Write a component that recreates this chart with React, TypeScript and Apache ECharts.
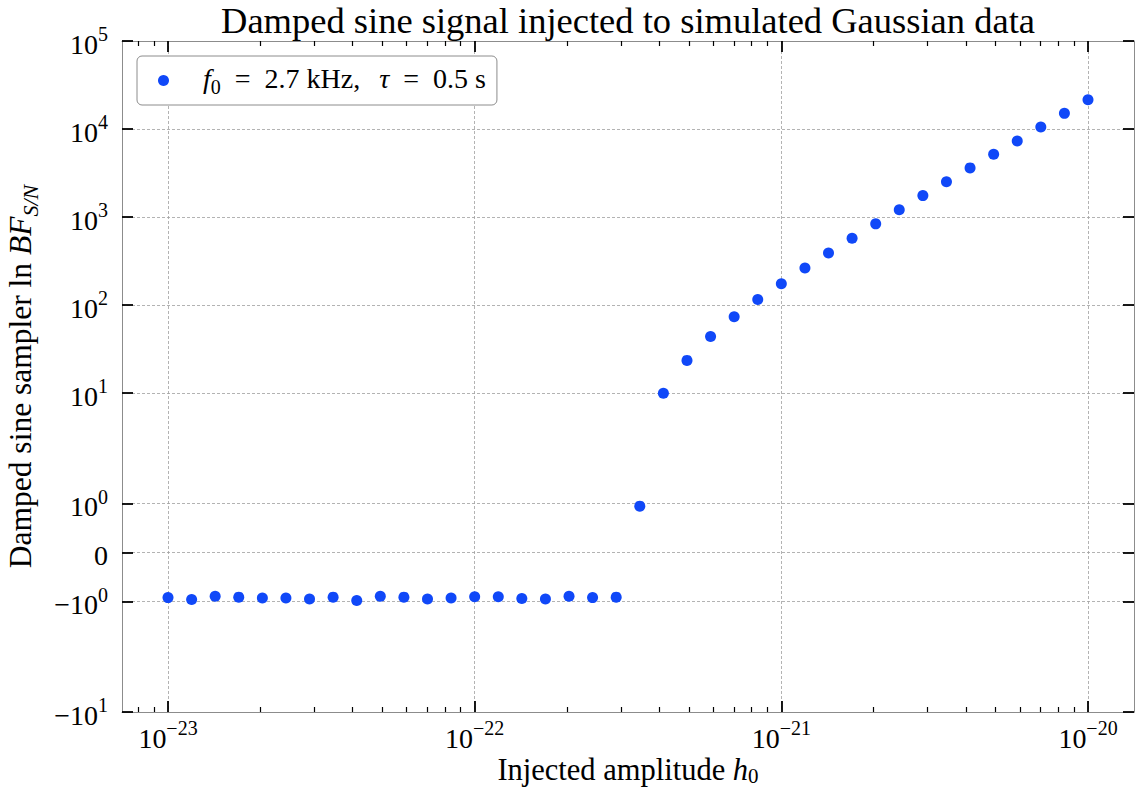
import React, { useEffect, useRef } from "react";
import * as echarts from "echarts";

// ---------------- data ----------------
const H0 = [
  1.000e-23, 1.194e-23, 1.425e-23, 1.701e-23, 2.031e-23, 2.424e-23, 2.894e-23, 3.455e-23, 4.125e-23, 4.924e-23,
  5.878e-23, 7.017e-23, 8.377e-23, 1.000e-22, 1.194e-22, 1.425e-22, 1.701e-22, 2.031e-22, 2.424e-22, 2.894e-22,
  3.455e-22, 4.125e-22, 4.924e-22, 5.878e-22, 7.017e-22, 8.377e-22, 1.000e-21, 1.194e-21, 1.425e-21, 1.701e-21,
  2.031e-21, 2.424e-21, 2.894e-21, 3.455e-21, 4.125e-21, 4.924e-21, 5.878e-21, 7.017e-21, 8.377e-21, 1.000e-20,
];
const LN_BF = [
  -0.92, -0.96, -0.89, -0.91, -0.93, -0.93, -0.95, -0.91, -0.98, -0.89,
  -0.91, -0.95, -0.93, -0.9, -0.9, -0.94, -0.95, -0.89, -0.92, -0.91,
  0.95, 10.0, 23.6, 44.2, 73.8, 115.7, 175.5, 265, 392, 575,
  838, 1213, 1754, 2528, 3623, 5160, 7310, 10540, 15070, 21500,
];
const SERIES_NAME = "f0 = 2.7 kHz, tau = 0.5 s";

const X_MAJOR_EXP = [-23, -22, -21, -20];
const X_MINOR_MULT = [2, 3, 4, 5, 6, 7, 8, 9];
const X_MINOR_DECADES = [-24, -23, -22, -21, -20];
const Y_TICK_VALUES = [1e5, 1e4, 1e3, 1e2, 1e1, 1, 0, -1, -10];
const Y_TICK_LABELS = [
  "{b|10}{s|5}", "{b|10}{s|4}", "{b|10}{s|3}", "{b|10}{s|2}", "{b|10}{s|1}",
  "{b|10}{s|0}", "{b|0}", "{b|\u221210}{s|0}", "{b|\u221210}{s|1}",
];

// ---------------- scales ----------------
const LINTHRESH = 2;
const LINSCALE_ADJ = 1 / (1 - 1 / 10);
function symlog(v: number): number {
  const a = Math.abs(v);
  const s = v < 0 ? -1 : 1;
  if (a <= LINTHRESH) return (v * LINSCALE_ADJ) / LINTHRESH;
  return s * (LINSCALE_ADJ + Math.log10(a / LINTHRESH));
}
const X_MIN = -23.15;
const X_MAX = -19.85;
const Y_MIN = symlog(-10);
const Y_MAX = symlog(1e5);

const FONT = "Liberation Serif";
const GRID_LINE = { show: true, lineStyle: { color: "#a0a0a0", width: 0.8, type: [3, 2] as any } };
const SPINE = { show: true, onZero: false, lineStyle: { color: "#8c8c8c", width: 1 } };
const NO_LINE = { show: false, onZero: false };

const xMajor = X_MAJOR_EXP.map((e) => e);
const xMinor: number[] = [];
X_MINOR_DECADES.forEach((d) =>
  X_MINOR_MULT.forEach((m) => {
    const v = d + Math.log10(m);
    if (v > X_MIN && v < X_MAX) xMinor.push(v);
  })
);
const yPos = Y_TICK_VALUES.map(symlog);

const tickRich = {
  b: { fontFamily: FONT, fontSize: 28, lineHeight: 34, verticalAlign: "bottom", color: "#000" },
  s: { fontFamily: FONT, fontSize: 20, lineHeight: 22, verticalAlign: "top", color: "#000" },
};
function makeRich(fs: number, sfs: number, lh: number, slh: number) {
  return {
    r: { fontFamily: FONT, fontSize: fs, lineHeight: lh, verticalAlign: "top", color: "#000" },
    i: { fontFamily: FONT, fontStyle: "italic", fontSize: fs, lineHeight: lh, verticalAlign: "top", color: "#000" },
    sub: { fontFamily: FONT, fontStyle: "italic", fontSize: sfs, lineHeight: slh, verticalAlign: "bottom", color: "#000" },
    subr: { fontFamily: FONT, fontSize: sfs, lineHeight: slh, verticalAlign: "bottom", color: "#000" },
    g: { fontFamily: FONT, fontSize: fs, lineHeight: lh, verticalAlign: "top", width: 29 },
    e: { fontFamily: FONT, fontSize: fs, lineHeight: lh, verticalAlign: "top", width: 14 },
    c: { fontFamily: FONT, fontSize: fs, lineHeight: lh, verticalAlign: "top", width: 19 },
  };
}
const legendRich = makeRich(28, 20, 33, 20);
const xNameRich = makeRich(30.5, 21, 32, 18);
const yNameRich = makeRich(31.5, 22, 37, 20);

function xLabel(v: number): string {
  const e = Math.round(v);
  return "{b|10}{s|\u2212" + Math.abs(e) + "}";
}
function yLabel(v: number): string {
  let best = 0;
  let bd = Infinity;
  yPos.forEach((p, i) => {
    const d = Math.abs(p - v);
    if (d < bd) { bd = d; best = i; }
  });
  return Y_TICK_LABELS[best];
}

export default function App() {
  const ref = useRef<HTMLDivElement>(null);
  useEffect(() => {
    const chart = echarts.init(ref.current!, null, { renderer: "svg" });
    const baseX = { type: "value", min: X_MIN, max: X_MAX, gridIndex: 0, nameMoveOverlap: false };
    const option: any = {
      animation: false,
      backgroundColor: "#ffffff",
      grid: { left: 122, right: 3, top: 41, bottom: 75, containLabel: false, outerBoundsMode: "none" },
      legend: {
        left: 137,
        top: 56,
        orient: "horizontal",
        padding: [8, 11, 8, 21],
        borderColor: "#8c8c8c",
        borderWidth: 1,
        borderRadius: 5,
        backgroundColor: "#ffffff",
        icon: "circle",
        itemWidth: 11,
        itemHeight: 11,
        selectedMode: false,
        data: [SERIES_NAME],
        formatter: () =>
          "{g| }{i|f}{subr|0}{e| }{r|=}{e| }{r|2.7 kHz,}{c| }{i|\u03c4}{e| }{r|=}{e| }{r|0.5 s}",
        textStyle: { fontFamily: FONT, fontSize: 28, rich: legendRich },
      },
      xAxis: [
        {
          ...baseX,
          position: "bottom",
          axisLine: SPINE,
          axisTick: { show: true, inside: true, length: 11, lineStyle: { color: "#000", width: 1.8 }, customValues: xMajor },
          axisLabel: { show: true, margin: 6, customValues: xMajor, formatter: xLabel, rich: tickRich, showMinLabel: true, showMaxLabel: true },
          splitLine: GRID_LINE,
          name: "{r|Injected amplitude }{i|h}{subr|0}",
          nameLocation: "middle",
          nameGap: 42.5,
          nameTextStyle: { fontFamily: FONT, fontSize: 30.5, rich: xNameRich },
        },
        {
          ...baseX,
          position: "bottom",
          axisLine: NO_LINE,
          axisTick: { show: true, inside: true, length: 5, lineStyle: { color: "#000", width: 1.2 }, customValues: xMinor },
          axisLabel: { show: false, customValues: xMinor },
          splitLine: { show: false },
        },
        {
          ...baseX,
          position: "top",
          axisLine: SPINE,
          axisTick: { show: true, inside: true, length: 11, lineStyle: { color: "#000", width: 1.8 }, customValues: xMajor },
          axisLabel: { show: false, customValues: xMajor },
          splitLine: { show: false },
          name: "Damped sine signal injected to simulated Gaussian data",
          nameLocation: "middle",
          nameGap: 2,
          nameTextStyle: { fontFamily: FONT, fontSize: 36.5, lineHeight: 38, color: "#000" },
        },
        {
          ...baseX,
          position: "top",
          axisLine: NO_LINE,
          axisTick: { show: true, inside: true, length: 5, lineStyle: { color: "#000", width: 1.2 }, customValues: xMinor },
          axisLabel: { show: false, customValues: xMinor },
          splitLine: { show: false },
        },
      ],
      yAxis: [
        {
          type: "value",
          min: Y_MIN,
          max: Y_MAX,
          position: "left",
          nameMoveOverlap: false,
          axisLine: SPINE,
          axisTick: { show: true, inside: true, length: 11, lineStyle: { color: "#000", width: 1.8 }, customValues: yPos },
          axisLabel: { show: true, margin: 14, customValues: yPos, formatter: yLabel, rich: tickRich, showMinLabel: true, showMaxLabel: true },
          splitLine: GRID_LINE,
          name: "{r|Damped sine sampler ln }{i|BF}{sub|S/N}",
          nameLocation: "middle",
          nameGap: 81,
          nameTextStyle: { fontFamily: FONT, fontSize: 31.5, rich: yNameRich },
        },
        {
          type: "value",
          min: Y_MIN,
          max: Y_MAX,
          position: "right",
          nameMoveOverlap: false,
          axisLine: SPINE,
          axisTick: { show: true, inside: true, length: 11, lineStyle: { color: "#000", width: 1.8 }, customValues: yPos },
          axisLabel: { show: false, customValues: yPos },
          splitLine: { show: false },
        },
      ],
      series: [
        {
          name: SERIES_NAME,
          type: "scatter",
          xAxisIndex: 0,
          yAxisIndex: 0,
          symbol: "circle",
          symbolSize: 11,
          itemStyle: { color: "#1048f8", opacity: 1 },
          data: H0.map((h, i) => [Math.log10(h), symlog(LN_BF[i])]),
          z: 5,
        },
      ],
    };
    chart.setOption(option);
    return () => chart.dispose();
  }, []);
  return (
    <div
      ref={ref}
      style={{ position: "fixed", left: 0, top: 0, width: 1137, height: 787, background: "#fff" }}
    />
  );
}
